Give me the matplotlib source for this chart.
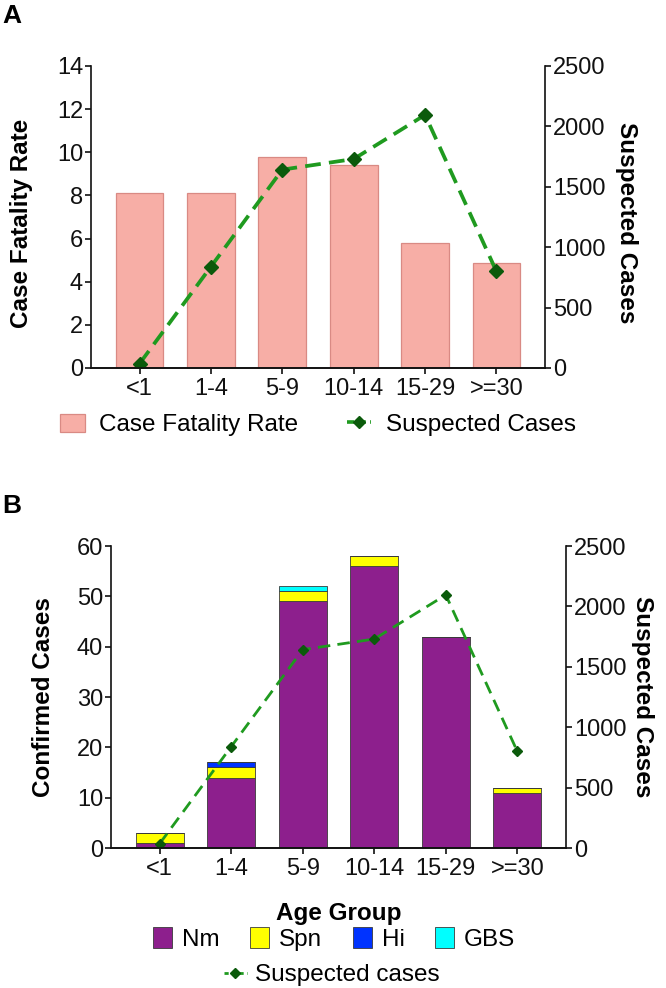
import numpy as np
import matplotlib.pyplot as plt
from matplotlib.lines import Line2D

plt.rcParams['font.family'] = ['Liberation Sans', 'DejaVu Sans']

age_groups = ["<1", "1-4", "5-9", "10-14", "15-29", ">=30"]
cfr = [8.1, 8.1, 9.78, 9.4, 5.78, 4.85]
suspected = [36, 839, 1642, 1730, 2095, 799]

nm = [1, 14, 49, 56, 42, 11]
spn = [2, 2, 2, 2, 0, 1]
hi = [0, 1, 0, 0, 0, 0]
gbs = [0, 0, 1, 0, 0, 0]

green = '#1f9a1f'
dark_green = '#0b5a0b'
tick_fs = 17
label_fs = 17.5

x = np.arange(len(age_groups))

fig = plt.figure(figsize=(6.66, 9.88), dpi=100)


def style_axes(ax, ax2):
    for a in (ax, ax2):
        a.spines['top'].set_visible(False)
        for s in a.spines.values():
            s.set_linewidth(1.2)
            s.set_color('#111111')
        a.tick_params(labelsize=tick_fs, length=4.5, width=1.2, pad=1.2, colors='#111111')
    ax2.spines['left'].set_visible(False)
    ax.spines['right'].set_visible(False)
    ax.set_xlim(-0.68, 5.68)
    ax.set_xticks(x)
    ax.set_xticklabels(age_groups)
    ax.tick_params(axis='x', pad=2.5)
    ax2.tick_params(axis='y', pad=1.5)
    ax2.set_ylim(0, 2500)
    ax2.set_yticks(range(0, 2501, 500))


# ---- panel A ----
axA = fig.add_axes([91 / 666, 1 - 368 / 988, 454 / 666, 302 / 988])
axA.bar(x, cfr, width=0.67, color='#f7aea6', edgecolor='#d98a84', linewidth=0.9,
        label='Case Fatality Rate')
axA.set_ylim(0, 14)
axA.set_yticks(range(0, 15, 2))
axA2 = axA.twinx()
axA2.plot(x, suspected, color=green, lw=2.7, dashes=(4.2, 2.2), marker='D',
          markersize=7.5, markerfacecolor=dark_green, markeredgecolor=dark_green,
          label='Suspected Cases')
style_axes(axA, axA2)
axA.set_ylabel('Case Fatality Rate', fontsize=label_fs, fontweight='bold')
axA.yaxis.set_label_coords(-0.128, 0.48)
axA2.set_ylabel('Suspected Cases', fontsize=label_fs, fontweight='bold', rotation=270)
axA2.yaxis.set_label_coords(1.205, 0.48)

hA = [axA.containers[0].patches[0],
      Line2D([], [], color=green, lw=2.6, dashes=(2, 1.2), marker='D', markersize=6,
             markerfacecolor=dark_green, markeredgecolor=dark_green)]
fig.legend(hA, ['Case Fatality Rate', 'Suspected Cases'], loc='center',
           bbox_to_anchor=(318 / 666, 1 - 425 / 988), ncol=2, frameon=False,
           fontsize=label_fs, handlelength=1.0, handleheight=0.8,
           handletextpad=0.6, columnspacing=2.0)

fig.text(0.003, 1 - 4 / 988, 'A', fontsize=19, fontweight='bold', ha='left', va='top')

# ---- panel B ----
axB = fig.add_axes([111 / 666, 1 - 848 / 988, 455 / 666, 302 / 988])
edge = '#3a3a3a'
bottom = np.zeros(len(x))
bars = []
for vals, col, name in [(nm, '#8d1f8d', 'Nm'), (spn, '#ffff00', 'Spn'),
                        (hi, '#0033ff', 'Hi'), (gbs, '#00ffff', 'GBS')]:
    b = axB.bar(x, vals, width=0.67, bottom=bottom, color=col, edgecolor=edge,
                linewidth=0.6, label=name)
    bars.append(b)
    bottom = bottom + np.array(vals)
axB.set_ylim(0, 60)
axB.set_yticks(range(0, 61, 10))
axB2 = axB.twinx()
axB2.plot(x, suspected, color=green, lw=2.0, dashes=(4.5, 2.6), marker='D',
          markersize=5, markerfacecolor=dark_green, markeredgecolor=dark_green,
          label='Suspected cases')
style_axes(axB, axB2)
axB.set_ylabel('Confirmed Cases', fontsize=label_fs, fontweight='bold')
axB.yaxis.set_label_coords(-0.123, 0.5)
axB2.set_ylabel('Suspected Cases', fontsize=label_fs, fontweight='bold', rotation=270)
axB2.yaxis.set_label_coords(1.193, 0.5)
axB.set_xlabel('Age Group', fontsize=label_fs, fontweight='bold')
axB.xaxis.set_label_coords(0.5, -0.179)

fig.legend([b.patches[0] for b in bars], ['Nm', 'Spn', 'Hi', 'GBS'], loc='center',
           bbox_to_anchor=(334 / 666, 1 - 939 / 988), ncol=4, frameon=False,
           fontsize=label_fs, handlelength=0.8, handleheight=0.95,
           handletextpad=0.4, columnspacing=1.25)
fig.legend([Line2D([], [], color=green, lw=2.0, dashes=(1.5, 1.2), marker='D',
                   markersize=5, markerfacecolor=dark_green, markeredgecolor=dark_green)],
           ['Suspected cases'], loc='center', bbox_to_anchor=(332 / 666, 1 - 975 / 988),
           frameon=False, fontsize=label_fs, handlelength=0.95, handletextpad=0.35)

fig.text(0.003, 1 - 494 / 988, 'B', fontsize=19, fontweight='bold', ha='left', va='top')

fig.savefig('out.png', dpi=100)
